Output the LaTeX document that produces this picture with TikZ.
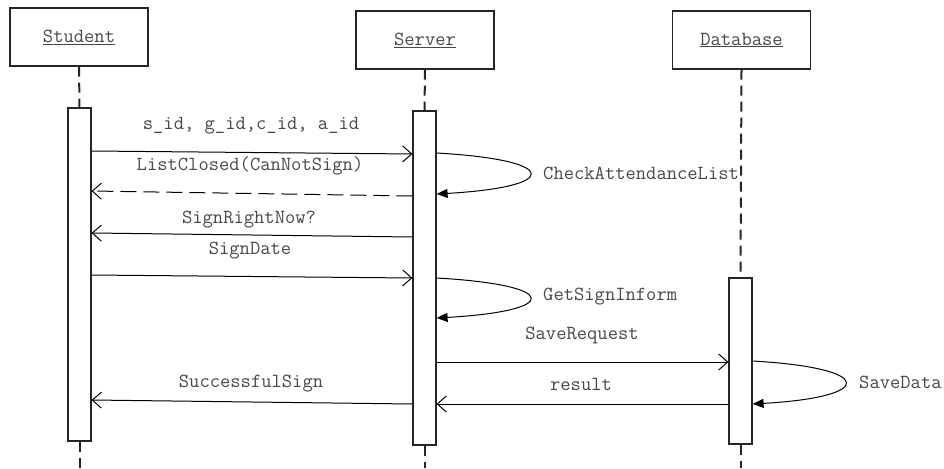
\documentclass[tikz,border=0pt]{standalone}
\usetikzlibrary{arrows.meta,calc}
\begin{document}
\begin{tikzpicture}[x=1pt,y=-1pt,
  every node/.style={font=\fontsize{20}{23}\selectfont\ttfamily, text=black!72},
  objbox/.style={draw=black!85, line width=1.4pt, minimum width=138pt, minimum height=58pt, inner sep=0pt},
  actbox/.style={draw=black!85, line width=1.2pt, fill=white, minimum width=23pt, inner sep=0pt},
  life/.style={draw=black!85, line width=2pt, dash pattern=on 10pt off 6pt},
  msg/.style={draw=black, line width=1pt, -{Straight Barb[length=9pt,width=16pt,line width=1pt]}},
  reply/.style={msg, dash pattern=on 16pt off 7pt},
  selfmsg/.style={draw=black, line width=1pt, -{Triangle[length=11pt,width=9pt]}},
  lbl/.style={inner sep=1pt}
]
\useasboundingbox (0,0) rectangle (944,468);

% objects
\node[objbox] (bS) at (79,37) {\underline{Student}};
\node[objbox] (bV) at (425,40) {\underline{Server}};
\node[objbox] (bD) at (741.5,40) {\underline{Database}};

% activations
\node[actbox, minimum height=333pt] (aS) at (79.5,274.5) {};
\node[actbox, minimum height=334pt] (aV) at (424.5,278) {};
\node[actbox, minimum height=166pt] (aD) at (740.5,361) {};

% lifeline ends
\coordinate (eS) at (79.5,468);
\coordinate (eV) at (424.5,468);
\coordinate (eD) at (740.5,468);

\draw[life] (bS.south) -- (aS.north);
\draw[life] (aS.south) -- (eS);
\draw[life] (bV.south) -- (aV.north);
\draw[life] (aV.south) -- (eV);
\draw[life] (bD.south) -- (aD.north);
\draw[life] (aD.south) -- (eD);

% messages
\draw[msg] (aS.east |- 0,151) -- (aV.west |- 0,154);
\node[lbl] (l1) at (251,126) {s\_id, g\_id,c\_id, a\_id};

\draw[reply] (aV.west |- 0,196) -- (aS.east |- 0,191);
\node[lbl] (l2) at (250,166) {ListClosed(CanNotSign)};

\draw[selfmsg] (aV.east |- 0,153) .. controls (561,160) and (561,187) .. (aV.east |- 0,194);
\node[lbl, anchor=west] (l3) at (542,173) {CheckAttendanceList};

\draw[msg] (aV.west |- 0,237) -- (aS.east |- 0,233);
\node[lbl] (l4) at (249,220) {SignRightNow?};

\draw[msg] (aS.east |- 0,275) -- (aV.west |- 0,278);
\node[lbl] (l5) at (250,251) {SignDate};

\draw[selfmsg] (aV.east |- 0,278) .. controls (561,285) and (561,311) .. (aV.east |- 0,318);
\node[lbl, anchor=west] (l6) at (542,297) {GetSignInform};

\draw[msg] (aV.east |- 0,362) -- (aD.west |- 0,362);
\node[lbl] (l7) at (582,335) {SaveRequest};

\draw[selfmsg] (aD.east |- 0,361) .. controls (876,368) and (876,397) .. (aD.east |- 0,404);
\node[lbl, anchor=west] (l8) at (858,382) {SaveData};

\draw[msg] (aD.west |- 0,404) -- (aV.east |- 0,404);
\node[lbl] (l9) at (581,384) {result};

\draw[msg] (aV.west |- 0,404) -- (aS.east |- 0,400);
\node[lbl] (l10) at (251,384) {SuccessfulSign};
\end{tikzpicture}
\end{document}
